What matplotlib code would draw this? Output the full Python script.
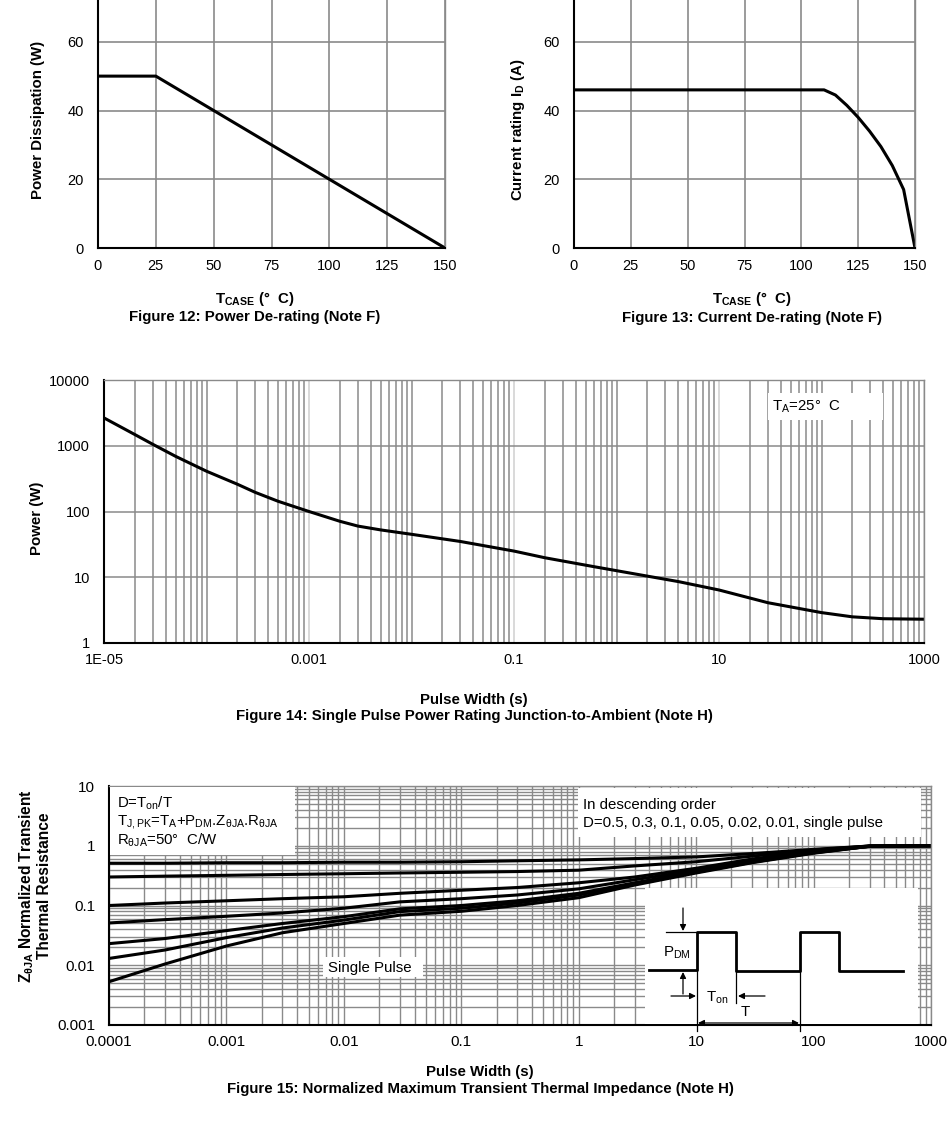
import numpy as np
import matplotlib
matplotlib.use('Agg')
import matplotlib.pyplot as plt
from matplotlib.ticker import FixedLocator, NullFormatter, NullLocator, LogLocator
from matplotlib.patches import Rectangle

plt.rcParams['font.family'] = ['Liberation Sans', 'DejaVu Sans']
plt.rcParams['mathtext.fontset'] = 'custom'
plt.rcParams['mathtext.rm'] = 'Liberation Sans'
plt.rcParams['mathtext.it'] = 'Liberation Sans:italic'
plt.rcParams['mathtext.bf'] = 'Liberation Sans:bold'
plt.rcParams['mathtext.default'] = 'regular'

W, H = 949, 1126
GRID = '#8a8a8a'
LIGHT = '#cfcfcf'

# Figure 12: power de-rating
tcase_pd = [0, 25, 150]
power_pd = [50, 50, 0]

# Figure 13: current de-rating
tcase_id = [0, 110, 115, 120, 125, 130, 135, 140, 145, 150]
current_id = [46, 46, 44.5, 41.5, 38, 34, 29.5, 24, 17, 0]

temp_ticks = [0, 25, 50, 75, 100, 125, 150]
derate_yticks = [0, 20, 40, 60, 80]
derate_ylabels = ['0', '20', '40', '60', '']

# Figure 14: single pulse power rating
pulse_pk = [1e-5, 2e-5, 3e-5, 5e-5, 1e-4, 2e-4, 3e-4, 5e-4, 1e-3, 2e-3, 3e-3,
            5e-3, 1e-2, 3e-2, 0.1, 0.2, 0.6, 2, 4, 10, 30, 100, 200, 400, 1000]
power_pk = [2650, 1480, 1050, 690, 410, 260, 195, 143, 100, 71, 60,
            52.5, 45, 35, 25, 19.8, 14.5, 10.4, 8.6, 6.4, 4.1, 2.9, 2.5, 2.34, 2.3]
f14_xticks = [1e-5, 1e-3, 1e-1, 10, 1000]
f14_xlabels = ['1E-05', '0.001', '0.1', '10', '1000']
f14_yticks = [1, 10, 100, 1000, 10000]
f14_ylabels = ['1', '10', '100', '1000', '10000']

# Figure 15: normalized transient thermal impedance
pulse_z = [1e-4, 3e-4, 1e-3, 3e-3, 1e-2, 3e-2, 0.1, 0.3, 1, 3, 10, 30, 100, 300, 1000]
z_d50 = [0.51, 0.51, 0.52, 0.52, 0.53, 0.53, 0.54, 0.56, 0.58, 0.61, 0.65, 0.74, 0.87, 0.99, 1.0]
z_d30 = [0.30, 0.31, 0.32, 0.33, 0.34, 0.35, 0.36, 0.37, 0.39, 0.46, 0.54, 0.67, 0.85, 0.99, 1.0]
z_d10 = [0.10, 0.11, 0.12, 0.13, 0.14, 0.16, 0.18, 0.20, 0.24, 0.30, 0.42, 0.60, 0.82, 0.99, 1.0]
z_d05 = [0.051, 0.058, 0.066, 0.075, 0.090, 0.115, 0.13, 0.15, 0.19, 0.27, 0.39, 0.56, 0.79, 0.98, 1.0]
z_d02 = [0.023, 0.028, 0.038, 0.050, 0.065, 0.088, 0.10, 0.12, 0.16, 0.24, 0.37, 0.54, 0.77, 0.98, 1.0]
z_d01 = [0.013, 0.018, 0.029, 0.042, 0.057, 0.079, 0.09, 0.11, 0.15, 0.23, 0.36, 0.53, 0.76, 0.98, 1.0]
z_sp = [0.0053, 0.0105, 0.021, 0.035, 0.050, 0.069, 0.080, 0.10, 0.135, 0.22, 0.35, 0.52, 0.75, 0.98, 1.0]
f15_xticks = [1e-4, 1e-3, 1e-2, 1e-1, 1, 10, 100, 1000]
f15_xlabels = ['0.0001', '0.001', '0.01', '0.1', '1', '10', '100', '1000']
f15_yticks = [0.001, 0.01, 0.1, 1, 10]
f15_ylabels = ['0.001', '0.01', '0.1', '1', '10']


def axes_px(fig, x0, y0, x1, y1):
    """Add axes from a pixel box (top-left origin)"""
    return fig.add_axes([x0 / W, 1 - y1 / H, (x1 - x0) / W, (y1 - y0) / H])


def style(ax, xpad=8, ypad=10, size=10.5):
    for s in ['left', 'bottom']:
        ax.spines[s].set_color('black')
        ax.spines[s].set_linewidth(1.5)
    for s in ['top', 'right']:
        ax.spines[s].set_color(GRID)
        ax.spines[s].set_linewidth(1)
    ax.tick_params(which='both', length=0, labelsize=size, colors='black')
    ax.tick_params(axis='x', pad=xpad)
    ax.tick_params(axis='y', pad=ypad)
    ax.set_axisbelow(True)
    for s in ax.spines.values():
        s.set_zorder(3)


fig = plt.figure(figsize=(W / 100, H / 100), dpi=100)

# --- Figure 12 ---
ax12 = axes_px(fig, 98, -27, 445, 248)
ax12.plot(tcase_pd, power_pd, color='black', lw=2.2, zorder=2)
ax12.set_xlim(0, 150)
ax12.set_ylim(0, 80)
ax12.set_xticks(temp_ticks)
ax12.set_yticks(derate_yticks)
ax12.set_yticklabels(derate_ylabels)
ax12.grid(True, color=GRID, lw=1.2)
style(ax12)

# --- Figure 13 ---
ax13 = axes_px(fig, 574, -27, 915, 248)
ax13.plot(tcase_id, current_id, color='black', lw=2.2, zorder=2)
ax13.set_xlim(0, 150)
ax13.set_ylim(0, 80)
ax13.set_xticks(temp_ticks)
ax13.set_yticks(derate_yticks)
ax13.set_yticklabels(derate_ylabels)
ax13.grid(True, color=GRID, lw=1.2)
style(ax13)

# --- Figure 14 ---
ax14 = axes_px(fig, 104, 380, 924, 643)
ax14.plot(pulse_pk, power_pk, color='black', lw=2.2, zorder=2)
ax14.set_xscale('log')
ax14.set_yscale('log')
ax14.set_xlim(1e-5, 1000)
ax14.set_ylim(1, 10000)
ax14.xaxis.set_major_locator(FixedLocator(f14_xticks))
ax14.set_xticklabels(f14_xlabels)
minor14 = [m * 10.0 ** d for d in range(-5, 3) for m in range(1, 10)
           if not (m == 1 and 10.0 ** d in f14_xticks)]
ax14.xaxis.set_minor_locator(FixedLocator(minor14))
ax14.xaxis.set_minor_formatter(NullFormatter())
ax14.yaxis.set_major_locator(FixedLocator(f14_yticks))
ax14.set_yticklabels(f14_ylabels)
ax14.yaxis.set_minor_locator(NullLocator())
ax14.grid(True, which='minor', axis='x', color=GRID, lw=1.1)
ax14.grid(True, which='major', axis='x', color=LIGHT, lw=1.1)
ax14.grid(True, which='major', axis='y', color=GRID, lw=1.1)
style(ax14, xpad=7)

# --- Figure 15 ---
ax15 = axes_px(fig, 109, 786, 931, 1025)
for z in [z_d50, z_d30, z_d10, z_d05, z_d02, z_d01, z_sp]:
    ax15.plot(pulse_z, z, color='black', lw=2.2, zorder=2)
ax15.set_xscale('log')
ax15.set_yscale('log')
ax15.set_xlim(1e-4, 1000)
ax15.set_ylim(0.001, 10)
ax15.xaxis.set_major_locator(FixedLocator(f15_xticks))
ax15.set_xticklabels(f15_xlabels)
ax15.yaxis.set_major_locator(FixedLocator(f15_yticks))
ax15.set_yticklabels(f15_ylabels)
for axis in [ax15.xaxis, ax15.yaxis]:
    axis.set_minor_locator(LogLocator(base=10, subs=np.arange(2, 10), numticks=100))
    axis.set_minor_formatter(NullFormatter())
ax15.grid(True, which='both', color=GRID, lw=1.0)
style(ax15, xpad=7, size=11)

# --- overlay in pixel coordinates: boxes, labels, pulse sketch ---
ov = fig.add_axes([0, 0, 1, 1], zorder=10)
ov.set_xlim(0, W)
ov.set_ylim(H, 0)
ov.axis('off')
ov.patch.set_alpha(0)

white_boxes = [(768, 393, 883, 420), (110, 787, 295, 855), (578, 788, 921, 837),
               (323, 957, 423, 977), (645, 888, 918, 1024)]
for x0, y0, x1, y1 in white_boxes:
    ov.add_patch(Rectangle((x0, y0), x1 - x0, y1 - y0, facecolor='white',
                           edgecolor='none', zorder=1))

bold = dict(ha='center', va='center', fontsize=10.8, weight='bold', zorder=5)
reg = dict(ha='left', va='center', fontsize=10.8, zorder=5)

# axis titles
ov.text(38, 120, 'Power Dissipation (W)', rotation=90, **bold)
ov.text(518, 130, 'Current rating I$_D$ (A)', rotation=90, **bold)
ov.text(37, 518, 'Power (W)', rotation=90, **bold)
ov.text(35, 886, 'Z$_{θJA}$ Normalized Transient\nThermal Resistance',
        rotation=90, linespacing=1.1, **dict(bold, fontsize=11.2))

ov.text(255, 299, 'T$_{CASE}$ (°  C)', **bold)
ov.text(255, 317, 'Figure 12: Power De-rating (Note F)', **bold)
ov.text(752, 299, 'T$_{CASE}$ (°  C)', **bold)
ov.text(752, 318, 'Figure 13: Current De-rating (Note F)', **bold)
ov.text(474, 700, 'Pulse Width (s)', **bold)
ov.text(474, 716, 'Figure 14: Single Pulse Power Rating Junction-to-Ambient (Note H)', **bold)
ov.text(480, 1072, 'Pulse Width (s)', **bold)
ov.text(480, 1089, 'Figure 15: Normalized Maximum Transient Thermal Impedance (Note H)', **bold)

# annotations
ov.text(772, 407, 'T$_A$=25°  C', **reg)
ov.text(117, 803, 'D=T$_{on}$/T', **reg)
ov.text(117, 822, 'T$_{J,PK}$=T$_A$+P$_{DM}$.Z$_{θJA}$.R$_{θJA}$', **reg)
ov.text(117, 840, 'R$_{θJA}$=50°  C/W', **reg)
ov.text(583, 805, 'In descending order', **reg)
ov.text(583, 823, 'D=0.5, 0.3, 0.1, 0.05, 0.02, 0.01, single pulse', **reg)
ov.text(328, 968, 'Single Pulse', **reg)

# pulse train sketch
wave_x = [649, 697, 697, 736, 736, 800, 800, 839, 839, 903]
wave_y = [970, 970, 932, 932, 971, 971, 932, 932, 971, 971]
ov.plot(wave_x, wave_y, color='black', lw=2.0, zorder=4)
thin = dict(color='black', lw=0.9, zorder=4)
ov.plot([666, 697], [932, 932], **thin)
ov.plot([697, 697], [970, 1031], **thin)
ov.plot([736, 736], [971, 1003], **thin)
ov.plot([800, 800], [971, 1031], **thin)
arrow = dict(arrowstyle='-|>', color='black', lw=0.9, mutation_scale=9, shrinkA=0, shrinkB=0)
ov.annotate('', xy=(683, 931), xytext=(683, 908), arrowprops=arrow, zorder=4)
ov.annotate('', xy=(683, 972), xytext=(683, 994), arrowprops=arrow, zorder=4)
ov.annotate('', xy=(696, 996), xytext=(671, 996), arrowprops=arrow, zorder=4)
ov.annotate('', xy=(738, 996), xytext=(765, 996), arrowprops=arrow, zorder=4)
ov.annotate('', xy=(799, 1023), xytext=(698, 1023),
            arrowprops=dict(arrow, arrowstyle='<|-|>'), zorder=4)
ov.text(663, 953, 'P$_{DM}$', **reg)
ov.text(706, 998, 'T$_{on}$', **reg)
ov.text(745, 1012, 'T', **dict(reg, ha='center'))

fig.savefig('out.png', dpi=100)
